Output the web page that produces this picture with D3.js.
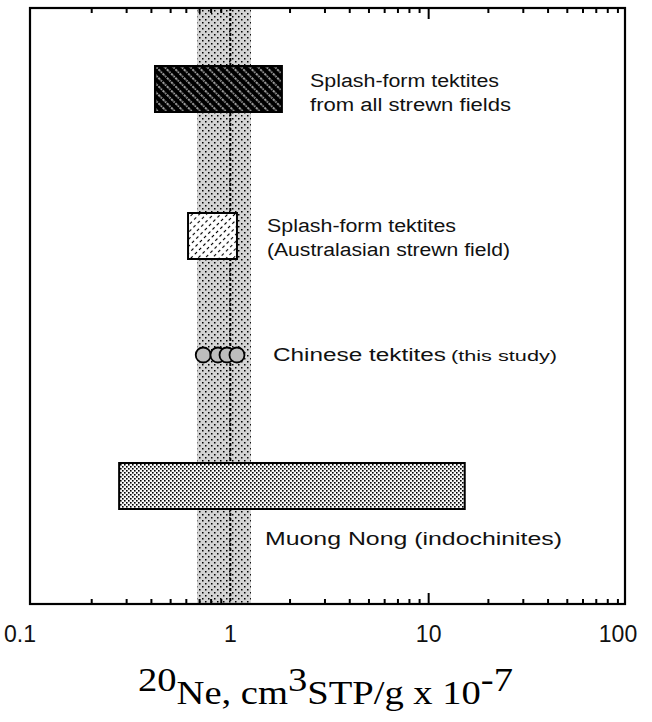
<!DOCTYPE html>
<html><head><meta charset="utf-8">
<script src="https://cdn.jsdelivr.net/npm/d3@7/dist/d3.min.js"></script>
<style>html,body{margin:0;padding:0;background:#fff}</style>
</head><body>
<script>
// ---- data ----
const categories = ["all", "australasian", "chinese", "muongnong"];
const labelLines = [
  ["Splash-form tektites", "from all strewn fields"],
  ["Splash-form tektites", "(Australasian strewn field)"],
  ["Chinese tektites"],
  ["Muong Nong (indochinites)"]
];
const rangeMin = [0.417, 0.612, null, 0.275];
const rangeMax = [1.82, 1.08, null, 15.2];
const chineseValues = [0.73, 0.866, 0.962, 1.08];
const bandRange = [0.68, 1.27];
const refValue = 1;
const tickValues = [0.1, 1, 10, 100];
const tickLabels = ["0.1", "1", "10", "100"];

// ---- layout ----
const W = 652, H = 722;
const svg = d3.select("body").append("svg").attr("width", W).attr("height", H)
  .style("font-family", "'Liberation Sans', Arial, sans-serif");
svg.append("rect").attr("width", W).attr("height", H).attr("fill", "#fff");

const frame = {l: 30, r: 625, t: 8, b: 604};
const x = d3.scaleLog().domain([0.1, 100]).range([32, 627]);
const y = d3.scaleOrdinal().domain(categories).range([89, 236, 355, 486]);
const barH = 46;

const defs = svg.append("defs");
const pb = defs.append("pattern").attr("id", "band").attr("patternUnits", "userSpaceOnUse")
  .attr("width", 6).attr("height", 6);
pb.append("rect").attr("width", 6).attr("height", 6).attr("fill", "#d4d4d4");
pb.append("rect").attr("x", 1).attr("y", 1).attr("width", 1.5).attr("height", 1.5).attr("fill", "#000");
pb.append("rect").attr("x", 4).attr("y", 4).attr("width", 1.5).attr("height", 1.5).attr("fill", "#000");
const p1 = defs.append("pattern").attr("id", "dark").attr("patternUnits", "userSpaceOnUse")
  .attr("width", 6).attr("height", 6).attr("patternTransform", "rotate(45)");
p1.append("rect").attr("width", 6).attr("height", 6).attr("fill", "#000");
p1.append("line").attr("x1", 0).attr("y1", 3).attr("x2", 6).attr("y2", 3)
  .attr("stroke", "#d0d0d0").attr("stroke-width", 1.4).attr("stroke-dasharray", "1.5 1");
const p2 = defs.append("pattern").attr("id", "light").attr("patternUnits", "userSpaceOnUse")
  .attr("width", 6).attr("height", 5).attr("patternTransform", "rotate(-45)");
p2.append("rect").attr("width", 6).attr("height", 5).attr("fill", "#fff");
p2.append("line").attr("x1", 0).attr("y1", 2.5).attr("x2", 6).attr("y2", 2.5)
  .attr("stroke", "#000").attr("stroke-width", 1.1).attr("stroke-dasharray", "3 3");
const p3 = defs.append("pattern").attr("id", "dots").attr("patternUnits", "userSpaceOnUse")
  .attr("width", 4).attr("height", 4);
p3.append("rect").attr("width", 4).attr("height", 4).attr("fill", "#f8f8f8");
p3.append("rect").attr("x", 0).attr("y", 0).attr("width", 1.6).attr("height", 1.6).attr("fill", "#000");
p3.append("rect").attr("x", 2).attr("y", 2).attr("width", 1.6).attr("height", 1.6).attr("fill", "#000");

svg.append("rect").attr("x", x(bandRange[0])).attr("y", frame.t)
  .attr("width", x(bandRange[1]) - x(bandRange[0])).attr("height", frame.b - frame.t)
  .attr("fill", "url(#band)");
svg.append("line").attr("x1", x(refValue)).attr("x2", x(refValue))
  .attr("y1", frame.t).attr("y2", frame.b)
  .attr("stroke", "#000").attr("stroke-width", 2).attr("stroke-dasharray", "3 2");

const minor = [];
for (let d = 0.1; d < 100; d *= 10) for (let k = 2; k <= 9; k++) minor.push(+(d * k).toPrecision(3));
const tickG = svg.append("g").attr("stroke", "#000").attr("stroke-width", 2);
minor.forEach(v => {
  tickG.append("line").attr("x1", x(v)).attr("x2", x(v)).attr("y1", frame.b).attr("y2", frame.b - 5);
  tickG.append("line").attr("x1", x(v)).attr("x2", x(v)).attr("y1", frame.t).attr("y2", frame.t + 5);
});
[10].forEach(v => {
  tickG.append("line").attr("x1", x(v)).attr("x2", x(v)).attr("y1", frame.b).attr("y2", frame.b - 11);
  tickG.append("line").attr("x1", x(v)).attr("x2", x(v)).attr("y1", frame.t).attr("y2", frame.t + 11);
});

const fills = ["url(#dark)", "url(#light)", null, "url(#dots)"];
categories.forEach((c, i) => {
  if (rangeMin[i] == null) return;
  svg.append("rect").attr("x", x(rangeMin[i])).attr("y", y(c) - barH / 2)
    .attr("width", x(rangeMax[i]) - x(rangeMin[i])).attr("height", barH)
    .attr("fill", fills[i]).attr("stroke", "#000").attr("stroke-width", 2);
});
svg.append("g").selectAll("circle").data(chineseValues).join("circle")
  .attr("cx", d => x(d)).attr("cy", y("chinese")).attr("r", 7.5)
  .attr("fill", "#bdbdbd").attr("stroke", "#000").attr("stroke-width", 1.8);

svg.append("rect").attr("x", frame.l).attr("y", frame.t)
  .attr("width", frame.r - frame.l).attr("height", frame.b - frame.t)
  .attr("fill", "none").attr("stroke", "#000").attr("stroke-width", 2.2);

const labelPos = [
  {x: 310, y: [87, 111], w: [189, 201]},
  {x: 267, y: [232, 256], w: [189, 243]},
  {x: 273, y: [361], w: [173]},
  {x: 265, y: [545], w: [297]}
];
labelLines.forEach((lines, i) => {
  lines.forEach((s, j) => {
    svg.append("text").attr("x", labelPos[i].x).attr("y", labelPos[i].y[j])
      .attr("font-size", 18).attr("fill", "#111")
      .attr("textLength", labelPos[i].w[j]).attr("lengthAdjust", "spacingAndGlyphs")
      .text(s);
  });
});
svg.append("text").attr("x", 451).attr("y", 361).attr("font-size", 14).attr("fill", "#111")
  .attr("textLength", 106).attr("lengthAdjust", "spacingAndGlyphs").text("(this study)");

const tickDx = [-12, 0, 0, -9];
tickValues.forEach((v, i) => {
  svg.append("text").attr("x", x(v) + tickDx[i]).attr("y", 642).attr("font-size", 23)
    .attr("fill", "#111").attr("text-anchor", "middle").text(tickLabels[i]);
});

const title = svg.append("text").attr("x", 138).attr("y", 704)
  .attr("font-family", "'Liberation Serif', 'Times New Roman', serif").attr("font-size", 34)
  .attr("textLength", 375).attr("lengthAdjust", "spacingAndGlyphs");
title.append("tspan").attr("dy", -13).text("20");
title.append("tspan").attr("dy", 13).text("Ne, cm");
title.append("tspan").attr("dy", -13).text("3");
title.append("tspan").attr("dy", 13).text("STP/g x 10");
title.append("tspan").attr("dy", -13).text("-7");
</script>
</body></html>
